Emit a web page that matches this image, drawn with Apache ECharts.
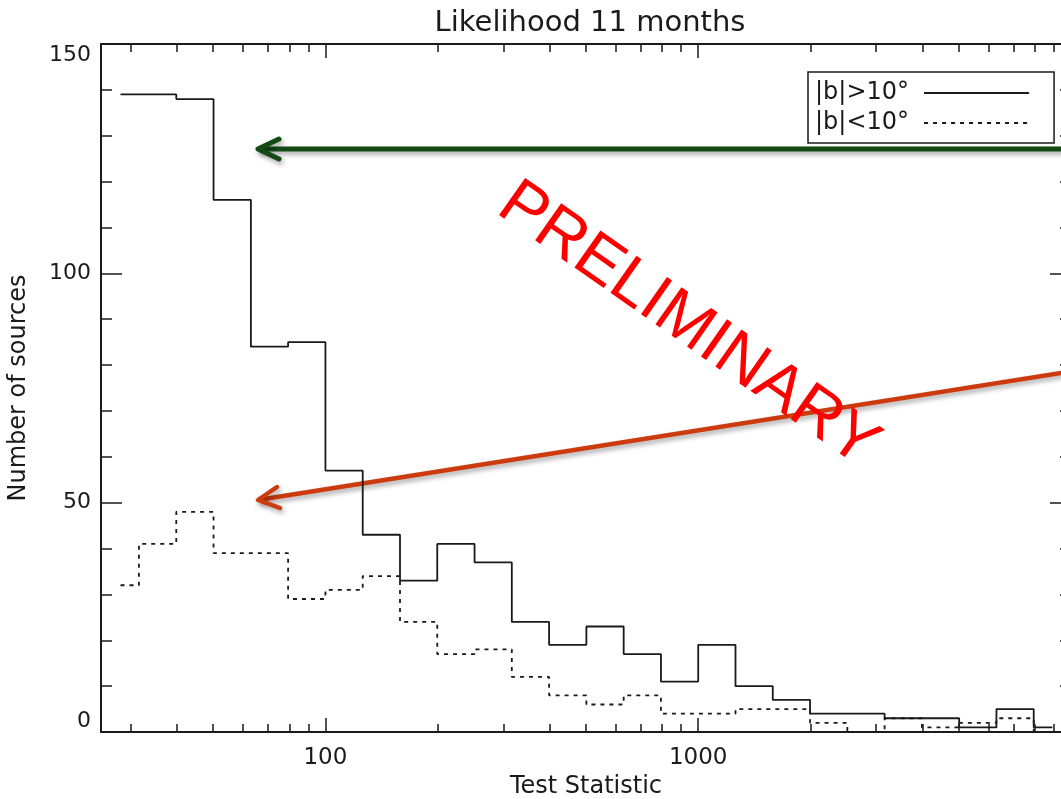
<!DOCTYPE html>
<html><head><meta charset="utf-8">
<script src="https://cdn.jsdelivr.net/npm/echarts@6/dist/echarts.min.js"></script>
<style>html,body{margin:0;padding:0;background:#fff}#c{width:1061px;height:799px}</style>
</head><body><div id="c"></div>
<script>
// Histogram bin edges (Test Statistic, log bins of 0.1 dex)
const binEdges = [28.2, 31.6, 39.8, 50.1, 63.1, 79.4, 100, 125.9, 158.5, 199.5, 251.2, 316.2, 398.1,
  501.2, 631.0, 794.3, 1000, 1258.9, 1584.9, 1995.3, 2511.9, 3162.3, 3981.1, 5011.9, 6309.6, 7943.3, 8912.5];
// |b|>10 deg (solid)
const highLatCounts = [139, 139, 138, 116, 84, 85, 57, 43, 33, 41, 37, 24, 19, 23, 17, 11, 19, 10, 7, 4, 4, 3, 3, 1, 5, 1];
// |b|<10 deg (dashed)
const lowLatCounts = [32, 41, 48, 39, 39, 29, 31, 34, 24, 17, 18, 12, 8, 6, 8, 4, 4, 5, 5, 2, 0, 3, 1, 2, 3, 0];
const seriesNames = ['|b|>10°', '|b|<10°'];
const xMajorTicks = [100, 1000, 10000];
const xMinorTicks = [30, 40, 50, 60, 70, 80, 90, 200, 300, 400, 500, 600, 700, 800, 900,
  2000, 3000, 4000, 5000, 6000, 7000, 8000, 9000];
const xTickLabels = [100, 1000];
const yTickLabels = [0, 50, 100, 150];

function stepData(counts) {
  return binEdges.map((e, i) => [e, counts[Math.min(i, counts.length - 1)]]);
}

const AX = '#1a1a1a';
const FONT = 'DejaVu Sans';
const lineSt = { color: AX, width: 1.5 };

function xAxisDef(pos, major, withLabels) {
  return {
    type: 'log', logBase: 10, min: 25, max: 10000, position: pos, gridIndex: 0,
    axisLine: { show: major, onZero: false, lineStyle: { color: AX, width: 2 } },
    axisTick: { show: true, inside: true, length: major ? 14 : 8,
      customValues: major ? xMajorTicks : xMinorTicks, lineStyle: lineSt },
    axisLabel: withLabels ? { show: true, customValues: xTickLabels, margin: 15, fontSize: 23,
      color: AX, fontFamily: FONT, formatter: v => String(Math.round(v)) } : { show: false },
    splitLine: { show: false }, minorTick: { show: false },
    name: withLabels ? 'Test Statistic' : '', nameLocation: 'middle', nameGap: 41,
    nameTextStyle: { fontSize: 24, color: AX, fontFamily: FONT }
  };
}
function yAxisDef(pos, withLabels) {
  return {
    type: 'value', min: 0, max: 150, interval: 50, position: pos,
    axisLine: { show: true, onZero: false, lineStyle: { color: AX, width: 2 } },
    axisTick: { show: true, inside: true, length: 21, lineStyle: lineSt },
    minorTick: { show: true, splitNumber: 5, length: 11, lineStyle: lineSt },
    axisLabel: withLabels ? { show: true, margin: 10, fontSize: 22, color: AX, fontFamily: FONT,
      verticalAlignMinLabel: 'bottom', verticalAlignMaxLabel: 'top',
      formatter: v => yTickLabels.includes(v) ? String(v) : '' } : { show: false },
    splitLine: { show: false }, minorSplitLine: { show: false },
    name: withLabels ? 'Number of sources' : '', nameLocation: 'middle', nameGap: 70,
    nameTextStyle: { fontSize: 24, color: AX, fontFamily: FONT }
  };
}

const chart = echarts.init(document.getElementById('c'), null, { renderer: 'canvas' });
const shadow = { shadowBlur: 5, shadowColor: 'rgba(0,0,0,0.35)', shadowOffsetX: 2, shadowOffsetY: 3 };
const GREEN = '#144a14', RED = '#cc3a0e';
chart.setOption({
  animation: false,
  backgroundColor: '#ffffff',
  title: {
    text: 'Likelihood 11 months', left: 585, textAlign: 'center', top: 4,
    textStyle: { fontSize: 29, fontWeight: 'normal', color: AX, fontFamily: FONT }
  },
  grid: { left: 101, width: 970, top: 44, height: 688, containLabel: false, outerBoundsMode: 'none' },
  legend: {
    orient: 'vertical', left: 808, top: 72, align: 'right',
    itemWidth: 105, itemHeight: 22, itemGap: 6,
    padding: [9, 24, 8, 7], borderColor: AX, borderWidth: 1.5,
    itemStyle: { color: 'rgba(0,0,0,0)', borderColor: 'rgba(0,0,0,0)', borderWidth: 0, opacity: 0 },
    textStyle: { fontSize: 24, color: AX, fontFamily: FONT, padding: [0, 10, 0, 0] },
    data: seriesNames
  },
  xAxis: [xAxisDef('bottom', true, true), xAxisDef('bottom', false, false),
          xAxisDef('top', true, false), xAxisDef('top', false, false)],
  yAxis: [yAxisDef('left', true), yAxisDef('right', false)],
  series: [
    { name: seriesNames[0], type: 'line', step: 'end', symbol: 'none', xAxisIndex: 0, yAxisIndex: 0,
      data: stepData(highLatCounts), lineStyle: { color: AX, width: 1.8, type: 'solid' },
      itemStyle: { color: AX } },
    { name: seriesNames[1], type: 'line', step: 'end', symbol: 'none', xAxisIndex: 0, yAxisIndex: 0,
      data: stepData(lowLatCounts), lineStyle: { color: AX, width: 1.8, type: [4, 5] },
      itemStyle: { color: AX } }
  ],
  graphic: [
    { type: 'text', x: 688, y: 325, rotation: -35 * Math.PI / 180, z: 50,
      style: { text: 'PRELIMINARY', fill: '#ff0000', fontSize: 66, fontFamily: 'Liberation Sans',
        align: 'center', verticalAlign: 'middle' } },
    { type: 'group', z: 60, children: [
      { type: 'polyline', shape: { points: [[1075, 149], [261, 149]] },
        style: Object.assign({ stroke: GREEN, lineWidth: 5, fill: null, lineCap: 'round' }, shadow) },
      { type: 'polyline', shape: { points: [[279, 139], [258, 149], [279, 159]] },
        style: Object.assign({ stroke: GREEN, lineWidth: 5, fill: null, lineCap: 'round', lineJoin: 'round' }, shadow) }
    ] },
    { type: 'group', z: 60, children: [
      { type: 'polyline', shape: { points: [[1075, 370.7], [261, 499.5]] },
        style: Object.assign({ stroke: RED, lineWidth: 4.5, fill: null, lineCap: 'round' }, shadow) },
      { type: 'polyline', shape: { points: [[277, 487], [258, 500], [280, 508]] },
        style: Object.assign({ stroke: RED, lineWidth: 4.5, fill: null, lineCap: 'round', lineJoin: 'round' }, shadow) }
    ] }
  ]
});
</script></body></html>
